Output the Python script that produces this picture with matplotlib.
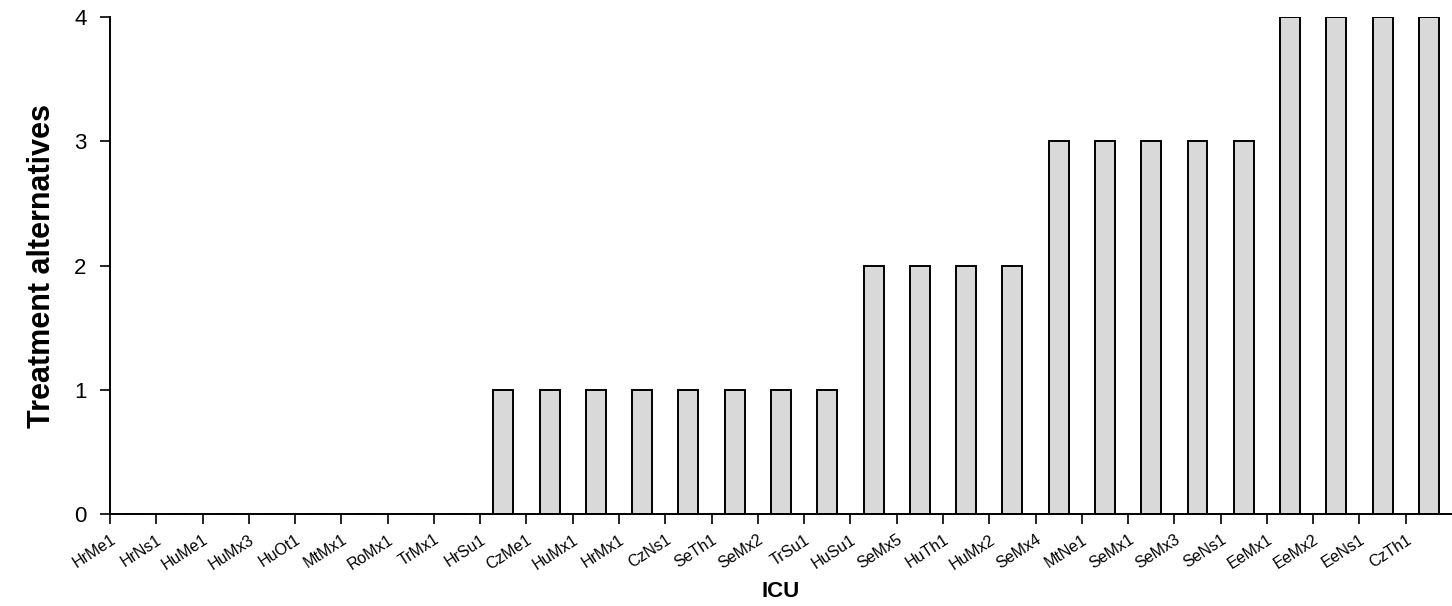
import matplotlib
matplotlib.use("Agg")
import matplotlib.pyplot as plt
from matplotlib import font_manager as fm
from matplotlib.transforms import ScaledTranslation
import numpy as np

icus = ["HrMe1", "HrNs1", "HuMe1", "HuMx3", "HuOt1", "MtMx1", "RoMx1", "TrMx1",
        "HrSu1", "CzMe1", "HuMx1", "HrMx1", "CzNs1", "SeTh1", "SeMx2", "TrSu1",
        "HuSu1", "SeMx5", "HuTh1", "HuMx2", "SeMx4", "MtNe1", "SeMx1", "SeMx3",
        "SeNs1", "EeMx1", "EeMx2", "EeNs1", "CzTh1"]
alternatives = [0, 0, 0, 0, 0, 0, 0, 0,
                1, 1, 1, 1, 1, 1, 1, 1,
                2, 2, 2, 2,
                3, 3, 3, 3, 3,
                4, 4, 4, 4]
yticks = [0, 1, 2, 3, 4]

names = {f.name for f in fm.fontManager.ttflist}
narrow = "Liberation Sans Narrow" if "Liberation Sans Narrow" in names else "Liberation Sans"
plt.rcParams['font.family'] = ['Liberation Sans', 'DejaVu Sans']

fig = plt.figure(figsize=(14.52, 6.06), dpi=100)
ax = fig.add_axes([110/1452, 1-514/606, 1-110/1452, (514-17)/606])

idx = np.arange(len(icus))
ax.bar(idx + 0.5, alternatives, width=0.43, color="#d9d9d9", edgecolor="black", linewidth=1.4)

ax.set_xlim(0, len(icus))
ax.set_ylim(0, 4)
ax.set_yticks(yticks)
ax.set_yticklabels([str(v) for v in yticks], fontsize=16)
ax.set_xticks(idx)
ax.set_xticklabels(icus, rotation=33, ha="right", rotation_mode="anchor", fontsize=11.5)
shift = ScaledTranslation(15/100, 0, fig.dpi_scale_trans)
for lab in ax.get_xticklabels():
    lab.set_transform(lab.get_transform() + shift)
ax.tick_params(axis="both", direction="out", length=7, width=1.2, colors="black")
ax.tick_params(axis="y", pad=10)
ax.tick_params(axis="x", pad=6)

for s in ["top", "right"]:
    ax.spines[s].set_visible(False)
for s in ["left", "bottom"]:
    ax.spines[s].set_linewidth(1.4)

ax.set_ylabel("Treatment alternatives", fontsize=22, fontweight="bold", family=narrow, labelpad=12)
ax.set_xlabel("ICU", fontsize=16, fontweight="bold", labelpad=6)

fig.savefig("out.png", dpi=100)
